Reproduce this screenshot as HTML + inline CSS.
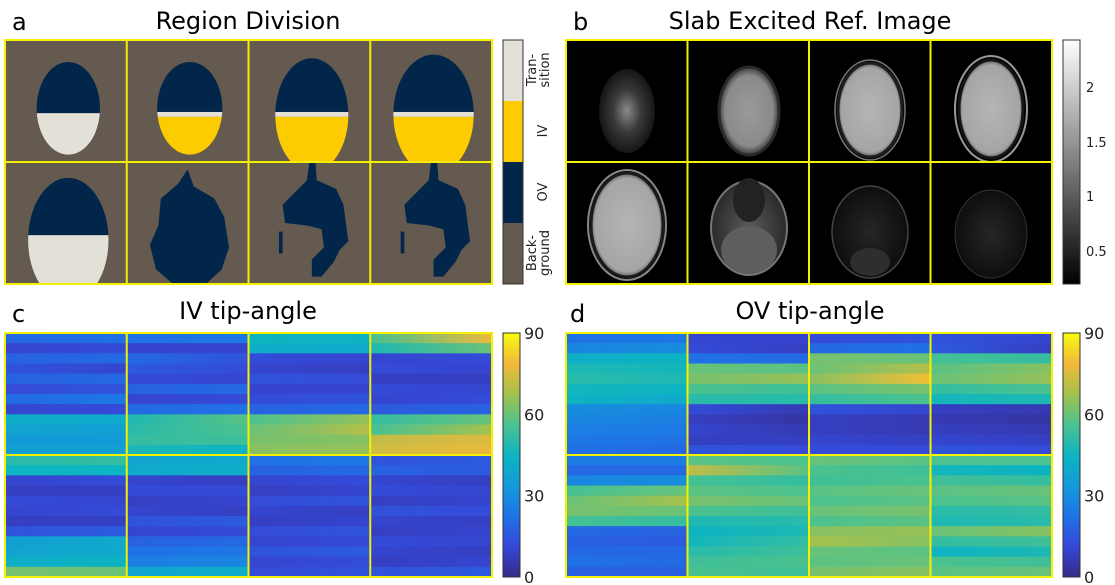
<!DOCTYPE html>
<html><head><meta charset="utf-8">
<style>
body{margin:0;background:#fff;width:1115px;height:585px;overflow:hidden;font-family:"DejaVu Sans","Liberation Sans",sans-serif;}
svg{position:absolute;left:0;top:0}
</style></head>
<body>
<svg id="fig" width="1115" height="585" viewBox="0 0 1115 585">
<defs>
<linearGradient id="parulaV" x1="0" y1="1" x2="0" y2="0">
<stop offset="0" stop-color="#352a87"/><stop offset="0.125" stop-color="#3548d8"/><stop offset="0.25" stop-color="#1f73e6"/><stop offset="0.375" stop-color="#139ad9"/><stop offset="0.5" stop-color="#0db5c0"/><stop offset="0.625" stop-color="#4cc28e"/><stop offset="0.75" stop-color="#a3c14e"/><stop offset="0.875" stop-color="#f0b83a"/><stop offset="1" stop-color="#f9fb0e"/>
</linearGradient>
<linearGradient id="grayV" x1="0" y1="1" x2="0" y2="0"><stop offset="0" stop-color="#000"/><stop offset="1" stop-color="#fff"/></linearGradient>
<radialGradient id="brain1"><stop offset="0" stop-color="#8a8a8a"/><stop offset="0.5" stop-color="#3a3a3a"/><stop offset="1" stop-color="#151515"/></radialGradient>
<radialGradient id="brain2"><stop offset="0" stop-color="#9a9a9a"/><stop offset="0.8" stop-color="#8a8a8a"/><stop offset="1" stop-color="#3a3a3a"/></radialGradient>
<radialGradient id="brain3"><stop offset="0" stop-color="#b5b5b5"/><stop offset="0.9" stop-color="#a5a5a5"/><stop offset="1" stop-color="#5a5a5a"/></radialGradient>
<radialGradient id="brain4"><stop offset="0" stop-color="#5a5a5a"/><stop offset="1" stop-color="#2a2a2a"/></radialGradient>
<radialGradient id="brain5"><stop offset="0" stop-color="#262626"/><stop offset="1" stop-color="#0e0e0e"/></radialGradient>
<clipPath id="cb1"><rect x="566" y="40" width="121.5" height="122"/></clipPath>
<clipPath id="cb2"><rect x="687.5" y="40" width="121.5" height="122"/></clipPath>
<clipPath id="cb3"><rect x="809" y="40" width="121.5" height="122"/></clipPath>
<clipPath id="cb4"><rect x="930.5" y="40" width="121.5" height="122"/></clipPath>
<clipPath id="cb5"><rect x="566" y="162" width="121.5" height="122"/></clipPath>
<clipPath id="cb6"><rect x="687.5" y="162" width="121.5" height="122"/></clipPath>
<clipPath id="cb7"><rect x="809" y="162" width="121.5" height="122"/></clipPath>
<clipPath id="cb8"><rect x="930.5" y="162" width="121.5" height="122"/></clipPath>
</defs>

<text x="12" y="30" font-size="24">a</text>
<text x="248" y="29" font-size="24" text-anchor="middle">Region Division</text>
<text x="573" y="30" font-size="24">b</text>
<text x="810" y="29" font-size="24" text-anchor="middle">Slab Excited Ref. Image</text>
<text x="12" y="322" font-size="24">c</text>
<text x="248" y="319" font-size="24" text-anchor="middle">IV tip-angle</text>
<text x="570" y="322" font-size="24">d</text>
<text x="810" y="319" font-size="24" text-anchor="middle">OV tip-angle</text>

<g id="panelA">
<rect x="5" y="40" width="487" height="244" fill="#645a50"/>
</g>
<g>
<rect x="503" y="40" width="20" height="61" fill="#e3e0d7"/>
<rect x="503" y="101" width="20" height="61" fill="#fccb00"/>
<rect x="503" y="162" width="20" height="61" fill="#02264a"/>
<rect x="503" y="223" width="20" height="61" fill="#645a50"/>
<rect x="503" y="40" width="20" height="244" fill="none" stroke="#333" stroke-width="1"/>
<text transform="translate(536,70) rotate(-90)" font-size="13" text-anchor="middle" fill="#222"><tspan x="0" dy="0">Tran-</tspan><tspan x="0" dy="13">sition</tspan></text>
<text transform="translate(547,131) rotate(-90)" font-size="13" text-anchor="middle" fill="#222">IV</text>
<text transform="translate(547,192) rotate(-90)" font-size="13" text-anchor="middle" fill="#222">OV</text>
<text transform="translate(536,253) rotate(-90)" font-size="13" text-anchor="middle" fill="#222"><tspan x="0" dy="0">Back-</tspan><tspan x="0" dy="13">ground</tspan></text>
</g>

<g id="panelB">
<rect x="566" y="40" width="486" height="244" fill="#000"/>
<g clip-path="url(#cb1)"><ellipse cx="627" cy="111" rx="28" ry="42" fill="url(#brain1)"/></g>
<g clip-path="url(#cb2)"><ellipse cx="749" cy="111" rx="30" ry="44" fill="url(#brain2)" stroke="#2a2a2a" stroke-width="3"/></g>
<g clip-path="url(#cb3)"><ellipse cx="870" cy="110" rx="32" ry="47" fill="url(#brain3)" stroke="#1e1e1e" stroke-width="3"/>
<ellipse cx="870" cy="110" rx="35" ry="50" fill="none" stroke="#777" stroke-width="1.5"/></g>
<g clip-path="url(#cb4)"><ellipse cx="991" cy="109" rx="32" ry="49" fill="url(#brain3)" stroke="#151515" stroke-width="3"/>
<ellipse cx="991" cy="109" rx="36" ry="53" fill="none" stroke="#999" stroke-width="2"/></g>
<g clip-path="url(#cb5)"><ellipse cx="627" cy="225" rx="36" ry="52" fill="url(#brain3)" stroke="#1a1a1a" stroke-width="3"/>
<ellipse cx="627" cy="225" rx="39" ry="55" fill="none" stroke="#888" stroke-width="2"/></g>
<g clip-path="url(#cb6)"><ellipse cx="749" cy="228" rx="38" ry="47" fill="url(#brain4)" stroke="#777" stroke-width="2"/>
<ellipse cx="749" cy="250" rx="28" ry="24" fill="#5e5e5e"/>
<ellipse cx="749" cy="200" rx="16" ry="22" fill="#222"/></g>
<g clip-path="url(#cb7)"><ellipse cx="870" cy="232" rx="38" ry="46" fill="url(#brain5)" stroke="#444" stroke-width="1.5"/>
<ellipse cx="870" cy="262" rx="20" ry="14" fill="#2e2e2e"/></g>
<g clip-path="url(#cb8)"><ellipse cx="991" cy="234" rx="36" ry="44" fill="url(#brain5)" stroke="#333" stroke-width="1"/></g>
</g>
<g>
<rect x="1063" y="40" width="17" height="244" fill="url(#grayV)" stroke="#333"/>
<text x="1086" y="92" font-size="13" fill="#222">2</text>
<text x="1086" y="147" font-size="13" fill="#222">1.5</text>
<text x="1086" y="201" font-size="13" fill="#222">1</text>
<text x="1086" y="256" font-size="13" fill="#222">0.5</text>
</g>

<g id="panelC"></g>
<g id="panelD"></g>
<g id="grids"></g>
</svg>

<script>
// IV tip-angle: per cell (row-major 2x4), 12 bands, [left,right] values (degrees)
const ivLeft = [
 [20,10,18,14,18,12,20,10,42,38,34,36],
 [22,10,20,16,12,18,10,20,48,50,52,48],
 [45,42,12,10,14,10,12,18,56,60,62,64],
 [55,48,10,12,8,12,10,16,52,55,72,74],
 [50,45,10,8,12,10,8,14,36,38,42,62],
 [38,40,10,12,8,10,14,10,18,22,26,38],
 [22,18,10,8,12,10,8,12,10,14,10,12],
 [14,18,10,12,8,14,10,8,12,10,8,14]];
const ivRight = [
 [22,12,20,10,20,14,24,12,40,36,34,36],
 [24,10,14,12,10,20,12,22,58,56,54,44],
 [44,40,10,8,12,10,14,20,66,70,64,66],
 [78,60,12,10,8,10,12,18,60,68,76,78],
 [52,45,12,8,10,12,8,16,40,40,44,60],
 [40,42,8,12,10,8,16,12,20,24,28,42],
 [24,20,12,10,14,8,10,14,12,16,12,14],
 [16,16,8,10,10,12,8,10,10,8,10,16]];
// OV tip-angle
const ovLeft = [
 [22,28,42,48,50,46,44,30,28,26,24,22],
 [10,12,22,60,62,56,50,12,8,10,8,14],
 [12,20,62,60,64,58,52,14,8,8,10,12],
 [14,16,55,58,60,52,46,8,6,8,10,14],
 [25,20,28,55,60,62,55,20,18,20,22,18],
 [58,72,55,58,62,56,48,44,46,50,54,56],
 [60,56,54,58,56,60,56,64,68,60,58,62],
 [56,46,54,58,56,50,48,60,52,44,56,58]];
const ovRight = [
 [24,30,44,46,48,44,40,28,26,24,22,20],
 [10,8,20,58,66,54,50,6,4,6,8,12],
 [14,22,60,70,80,62,56,10,6,6,8,12],
 [10,8,52,64,66,56,48,6,4,6,8,12],
 [25,20,30,60,68,60,52,18,16,20,20,18],
 [56,58,52,56,60,54,50,48,52,54,56,54],
 [58,54,56,60,58,62,58,66,64,58,60,64],
 [56,44,52,60,58,52,50,64,54,48,54,60]];
const cbTicks = [0,30,60,90];
const vmax = 90;

const NS = 'http://www.w3.org/2000/svg';
const svg = document.getElementById('fig');
const defs = svg.querySelector('defs');
const stops = [[0,[53,42,135]],[0.125,[53,72,216]],[0.25,[31,115,230]],[0.375,[19,154,217]],[0.5,[13,181,192]],[0.625,[76,194,142]],[0.75,[163,193,78]],[0.875,[240,184,58]],[1,[249,251,14]]];
function parula(v){
  let t = Math.max(0,Math.min(1,v/vmax));
  for(let i=0;i<stops.length-1;i++){
    const a=stops[i],b=stops[i+1];
    if(t<=b[0]){const f=(t-a[0])/(b[0]-a[0]);
      const c=a[1].map((x,k)=>Math.round(x+(b[1][k]-x)*f));
      return 'rgb('+c.join(',')+')';}
  }
  return 'rgb(249,251,14)';
}
function el(tag, attrs, parent){
  const e=document.createElementNS(NS,tag);
  for(const k in attrs) e.setAttribute(k,attrs[k]);
  parent.appendChild(e); return e;
}
let gid=0;
function heatmap(gId, x0, y0, w, h, L, R, cbx){
  const g=document.getElementById(gId);
  const cw=w/4, ch=h/2;
  L.forEach((rows,ci)=>{
    const cx=x0+(ci%4)*cw, cy=y0+Math.floor(ci/4)*ch;
    const rh=ch/rows.length;
    rows.forEach((v,ri)=>{
      const id='hg'+(gid++);
      const lg=el('linearGradient',{id:id,x1:'0',y1:'0',x2:'1',y2:'0'},defs);
      el('stop',{offset:'0','stop-color':parula(v)},lg);
      el('stop',{offset:'1','stop-color':parula(R[ci][ri])},lg);
      const r=el('rect',{x:cx,y:cy+ri*rh,width:cw+0.5,height:rh+0.5,fill:'url(#'+id+')'},g);
      
      
    });
  });
  const cb=el('rect',{x:cbx,y:y0,width:17,height:h,fill:'url(#parulaV)',stroke:'#333'},g);
  
  
  cbTicks.forEach(t=>{
    const ty=y0+h-(t/vmax)*h;
    const tx=el('text',{x:cbx+21,y:ty+6,'font-size':'16',fill:'#222'},g);
    tx.textContent=t;
    
    
  });
}
heatmap('panelC',5,333,487,244,ivLeft,ivRight,503);
heatmap('panelD',566,333,486,244,ovLeft,ovRight,1063);

const pa=document.getElementById('panelA');
const NAVY='#02264a', TRANS='#e3e0d7', IV='#fccb00';
function cellClip(cx,cy){
  const id='cc'+(gid++);
  const cp=el('clipPath',{id:id},defs);
  el('rect',{x:cx,y:cy,width:121.75,height:122},cp);
  return 'url(#'+id+')';
}
function head(ci, fx0,fx1,fy0,fy1,split,stripe,lowerColor){
  const cw=121.75,ch=122;
  const cx=5+(ci%4)*cw, cy=40+Math.floor(ci/4)*ch;
  const g=el('g',{'clip-path':cellClip(cx,cy)},pa);
  const ex=cx+(fx0+fx1)/2*cw, ey=cy+(fy0+fy1)/2*ch;
  const rx=(fx1-fx0)/2*cw, ry=(fy1-fy0)/2*ch;
  const id='hc'+(gid++);
  const cp=el('clipPath',{id:id},defs);
  el('ellipse',{cx:ex,cy:ey,rx:rx,ry:ry},cp);
  const gg=el('g',{'clip-path':'url(#'+id+')'},g);
  el('rect',{x:cx,y:cy,width:cw,height:split*ch,fill:NAVY},gg);
  if(stripe){
    el('rect',{x:cx,y:cy+split*ch,width:cw,height:0.04*ch,fill:TRANS},gg);
    el('rect',{x:cx,y:cy+(split+0.04)*ch,width:cw,height:ch,fill:lowerColor},gg);
  } else el('rect',{x:cx,y:cy+split*ch,width:cw,height:ch,fill:lowerColor},gg);
  
  
}
head(0,0.26,0.78,0.18,0.94,0.60,false,TRANS);
head(1,0.25,0.785,0.18,0.94,0.59,true,IV);
head(2,0.22,0.82,0.15,1.08,0.59,true,IV);
head(3,0.19,0.85,0.12,1.1,0.59,true,IV);
head(4,0.19,0.85,0.13,1.15,0.60,false,TRANS);
(function(){
  const cw=121.75,ch=122;
  function poly(ci,pts){
    const cx=5+(ci%4)*cw, cy=40+ch;
    const p=el('polygon',{points:pts.map(q=>(cx+q[0]*cw)+','+(cy+q[1]*ch)).join(' '),fill:NAVY},pa);
    
    
  }
  poly(5,[[0.5,0.06],[0.55,0.2],[0.72,0.3],[0.8,0.45],[0.84,0.7],[0.78,0.88],[0.65,1],[0.38,1],[0.24,0.88],[0.19,0.68],[0.26,0.52],[0.28,0.3],[0.42,0.18]]);
  poly(6,[[0.5,0],[0.55,0],[0.56,0.15],[0.72,0.22],[0.78,0.35],[0.8,0.5],[0.82,0.65],[0.75,0.72],[0.7,0.82],[0.6,0.94],[0.52,0.94],[0.52,0.8],[0.62,0.7],[0.6,0.55],[0.48,0.52],[0.3,0.5],[0.28,0.35],[0.38,0.25],[0.48,0.15]]);
  poly(7,[[0.5,0],[0.55,0],[0.56,0.15],[0.72,0.22],[0.78,0.35],[0.8,0.5],[0.82,0.65],[0.75,0.72],[0.7,0.82],[0.6,0.94],[0.52,0.94],[0.52,0.8],[0.62,0.7],[0.6,0.55],[0.48,0.52],[0.3,0.5],[0.28,0.35],[0.38,0.25],[0.48,0.15]]);
  [6,7].forEach(ci=>{
    const cx=5+(ci%4)*cw, cy=40+ch;
    el('rect',{x:cx+0.25*cw,y:cy+0.57*ch,width:0.03*cw,height:0.18*ch,fill:NAVY},pa);
  });
})();

const gr=document.getElementById('grids');
[[5,40,487],[566,40,486],[5,333,487],[566,333,486]].forEach(([x,y,w])=>{
  const g=el('g',{stroke:'#f5f000','stroke-width':'2',fill:'none'},gr);
  
  
  el('rect',{x:x,y:y,width:w,height:244},g);
  for(let i=1;i<4;i++) el('line',{x1:x+i*w/4,y1:y,x2:x+i*w/4,y2:y+244},g);
  el('line',{x1:x,y1:y+122,x2:x+w,y2:y+122},g);
});
</script>
</body></html>
